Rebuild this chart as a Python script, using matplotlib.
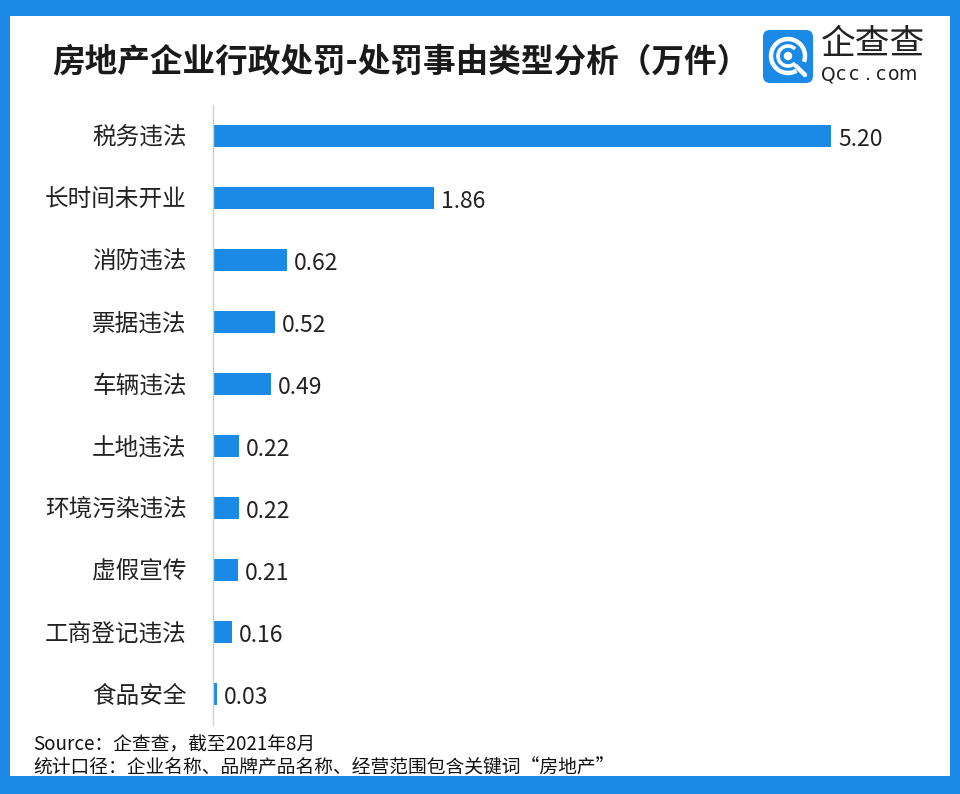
"""
Real-estate administrative penalties by reason (10k cases), qcc.com style.
"""

import matplotlib.pyplot as plt
from matplotlib.patches import FancyBboxPatch, Circle, Arc

plt.rcParams['font.family'] = ['Noto Sans CJK SC', 'DejaVu Sans']

# Data
categories = ['税务违法', '长时间未开业', '消防违法', '票据违法', '车辆违法',
              '土地违法', '环境污染违法', '虚假宣传', '工商登记违法', '食品安全']
values = [5.20, 1.86, 0.62, 0.52, 0.49, 0.22, 0.22, 0.21, 0.16, 0.03]

title = '房地产企业行政处罚-处罚事由类型分析（万件）'
source_lines = ['Source：企查查，截至2021年8月',
                '统计口径：企业名称、品牌产品名称、经营范围包含关键词“房地产”']

blue = '#1a8ae6'
W, H = 960, 794

fig = plt.figure(figsize=(W / 100, H / 100), dpi=100)
fig.patch.set_facecolor(blue)

# white panel inside the blue frame
bg = fig.add_axes([10 / W, 18 / H, 940 / W, 760 / H])
bg.set_facecolor('white')
bg.set_xticks([])
bg.set_yticks([])
for s in bg.spines.values():
    s.set_visible(False)
bg.set_zorder(0)

ax = fig.add_axes([213 / W, 1 - 725 / H, 722 / W, 620 / H])
ax.set_zorder(2)
ax.set_facecolor('none')
y = list(range(len(categories)))
ax.barh(y, values, height=0.34, color=blue)
ax.set_ylim(len(categories) - 0.5, -0.5)
ax.set_xlim(0, (935 - 213) / ((831 - 213) / 5.2))
ax.set_yticks(y)
ax.set_yticklabels(categories, fontsize=17, color='#222222')
ax.tick_params(axis='y', length=0, pad=19)
ax.set_xticks([])
for s in ['top', 'right', 'bottom']:
    ax.spines[s].set_visible(False)
ax.spines['left'].set_color('#d0d0d0')
ax.spines['left'].set_linewidth(1)

for yi, v in zip(y, values):
    ax.text(v + 0.06, yi + 0.05, f'{v:.2f}', va='center', ha='left',
            fontsize=16.5, color='#222222')

# title
fig.text(52 / W, 1 - 62 / H, title, fontsize=23.5, fontweight='bold',
         va='center', ha='left', color='#1a1a1a', zorder=3)

# logo: rounded blue square with ring icon
logo = fig.add_axes([763 / W, 1 - 83 / H, 50 / W, 53 / H])
logo.set_xlim(0, 50)
logo.set_ylim(0, 53)
logo.axis('off')
logo.set_zorder(3)
logo.add_patch(FancyBboxPatch((0, 0), 50, 53, boxstyle='round,pad=0,rounding_size=7',
                              facecolor=blue, edgecolor='none'))
logo.add_patch(Arc((25, 27), 34, 34, theta1=-20, theta2=300, color='white', lw=3.2))
logo.add_patch(Arc((25, 27), 20, 20, theta1=45, theta2=315, color='white', lw=2.6))
logo.add_patch(Circle((25, 27), 3.5, color='white'))
logo.plot([33, 42], [17, 8], color='white', lw=3.2, solid_capstyle='round')

fig.text(821 / W, 1 - 44 / H, '企查查', fontsize=25, color='#222222',
         ha='left', va='center', zorder=3)
for i, ch in enumerate('Qcc.com'):
    fig.text((828 + i * 13.2) / W, 1 - 75 / H, ch, fontsize=13.5, color='#222222',
             ha='center', va='center', family='DejaVu Sans', zorder=3)

# source notes
fig.text(33 / W, 1 - 745 / H, source_lines[0], fontsize=13.5, color='#111111',
         ha='left', va='center', zorder=3)
fig.text(33 / W, 1 - 768 / H, source_lines[1], fontsize=13.5, color='#111111',
         ha='left', va='center', zorder=3)

plt.savefig('out.png', dpi=100, facecolor=fig.get_facecolor())
plt.close()
